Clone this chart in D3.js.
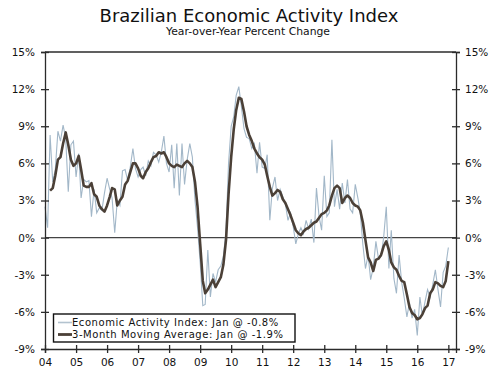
<!DOCTYPE html>
<html>
<head>
<meta charset="utf-8">
<script src="https://cdn.jsdelivr.net/npm/d3@7/dist/d3.min.js"></script>
<style>
  body { margin: 0; background: #fff; }
  text { font-family: "DejaVu Sans", Verdana, sans-serif; fill: #111; }
</style>
</head>
<body>
<div id="chart"></div>
<script>
// monthly series, Jan 2004 .. Jan 2017 (year over year % change)
const startMonth = new Date(2004, 0, 1);

const activityIndex = [
  2.5, 0.8, 8.3, 4.5, 5.5, 8.6, 7.8, 9.1, 8.0, 3.7, 7.5, 7.8,      // 2004
  4.9, 6.8, 3.2, 4.7, 4.5, 4.6, 1.7, 3.9, 2.0, 2.4, 2.2, 3.6,      // 2005
  4.8, 3.9, 3.2, 0.4, 3.0, 2.6, 5.4, 5.5, 4.6, 5.7, 7.2, 5.6,      // 2006
  4.9, 5.5, 5.7, 5.0, 6.2, 5.8, 6.9, 6.7, 6.1, 6.9, 8.2, 6.0,      // 2007
  5.3, 7.5, 4.0, 7.6, 3.4, 7.6, 4.3, 6.3, 7.6, 6.5, 3.0, 0.8,      // 2008
  -2.0, -5.5, -5.4, -1.0, -4.8, -2.9, -3.6, -2.6, -2.3, -1.5, 0.5, 6.0, // 2009
  9.0, 9.8, 11.5, 12.2, 10.6, 8.8, 8.1, 8.0, 7.2, 7.6, 5.2, 7.7,  // 2010
  5.7, 5.6, 6.7, 1.4, 4.0, 4.9, 3.0, 3.9, 3.3, 2.7, 1.4, 2.0,      // 2011
  0.9, -0.5, 0.3, 0.8, 0.3, 1.4, 0.7, 1.5, -0.4, 4.0, 1.7, 0.6,    // 2012
  5.0, 1.7, 2.0, 7.9, 2.5, 3.9, 2.3, 4.4, 2.8, 4.7, 2.3, 2.0,      // 2013
  4.3, 3.2, 2.0, -0.6, -2.5, -1.4, -3.4, -2.4, -0.3, -1.7, -1.5, 0.0, // 2014
  2.5, -2.5, 0.6, -3.3, -4.5, -1.4, -3.6, -4.9, -6.4, -5.3, -6.5, -5.8, // 2015
  -7.9, -4.8, -6.3, -5.2, -4.2, -4.8, -3.8, -2.6, -4.2, -5.6, -2.8, -2.3, // 2016
  -0.8                                                              // 2017
];

// 3-month moving average, first value is Mar 2004
const movingAvgStart = 2;
const movingAvg = [
  3.8, 4.0, 5.0, 6.3, 6.5, 7.6, 8.5, 7.5, 6.3, 5.8,
  6.0, 6.6, 5.5, 4.2, 4.1, 4.1, 4.4, 3.5, 3.3, 2.6, 2.3, 2.1,
  2.6, 3.3, 4.0, 3.9, 2.6, 3.0, 3.3, 4.3, 4.6, 5.3, 6.0, 6.0,
  5.6, 5.0, 4.8, 5.3, 5.6, 6.1, 6.5, 6.6, 6.9, 6.8, 6.9, 6.5,
  6.0, 5.8, 5.7, 5.9, 5.8, 5.7, 6.0, 6.2, 6.0, 5.7, 4.5, 2.5,
  -0.5, -3.5, -4.5, -4.2, -3.8, -3.4, -4.0, -3.6, -3.2, -2.2, -0.2, 3.5,
  6.5, 8.8, 10.3, 11.3, 11.2, 10.2, 9.0, 8.3, 7.8, 7.2, 6.8, 6.5,
  6.3, 5.9, 5.0, 4.1, 3.4, 3.6, 3.85, 3.7, 3.1, 2.8, 2.3, 1.8,
  1.2, 0.6, 0.35, 0.2, 0.5, 0.7, 0.8, 1.0, 1.2, 1.3, 1.6, 1.9,
  2.0, 2.2, 2.6, 3.4, 4.0, 4.2, 4.0, 2.8, 3.2, 3.4, 3.2, 2.8,
  2.6, 2.5, 2.2, 1.2, -0.2, -1.6, -2.0, -2.7, -1.8, -1.7, -1.4, -0.7,
  -0.3, -1.0, -2.0, -2.4, -2.6, -3.1, -3.5, -3.6, -4.6, -5.6, -6.1, -6.25,
  -6.6, -6.5, -6.2, -5.7, -5.5, -4.5, -4.2, -3.6, -3.7, -3.9, -4.0, -3.5,
  -1.9
];

const yTicks = [-9, -6, -3, 0, 3, 6, 9, 12, 15];
const yearLabels = ["04", "05", "06", "07", "08", "09", "10", "11", "12", "13", "14", "15", "16", "17"];
const legendLabels = [
  "Economic Activity Index: Jan @ -0.8%",
  "3-Month Moving Average: Jan @ -1.9%"
];

const width = 500, height = 378;
const margin = {top: 52, right: 44, bottom: 29, left: 45};
const rawColor = "#a2b7c8";
const avgColor = "#4b4037";
const axisColor = "#2b2b2b";

const svg = d3.select("#chart").append("svg")
  .attr("width", width)
  .attr("height", height);

const monthDate = i => d3.timeMonth.offset(startMonth, i);

const x = d3.scaleTime()
  .domain([startMonth, new Date(2017, 3, 1)])
  .range([margin.left, width - margin.right]);
const y = d3.scaleLinear()
  .domain([-9, 15])
  .range([height - margin.bottom, margin.top]);

// titles
svg.append("text")
  .attr("x", 249).attr("y", 22)
  .attr("text-anchor", "middle")
  .style("font-size", "18px")
  .text("Brazilian Economic Activity Index");
svg.append("text")
  .attr("x", 248).attr("y", 35)
  .attr("text-anchor", "middle")
  .style("font-size", "10.8px")
  .text("Year-over-Year Percent Change");

// zero line
svg.append("line")
  .attr("x1", x.range()[0]).attr("x2", x.range()[1])
  .attr("y1", y(0)).attr("y2", y(0))
  .attr("stroke", "#444").attr("stroke-width", 1.2);

// series
const rawLine = d3.line()
  .x((d, i) => x(monthDate(i)))
  .y(d => y(d));
const avgLine = d3.line()
  .x((d, i) => x(monthDate(i + movingAvgStart)))
  .y(d => y(d));

svg.append("path")
  .datum(activityIndex)
  .attr("fill", "none")
  .attr("stroke", rawColor)
  .attr("stroke-width", 1.1)
  .attr("d", rawLine);

svg.append("path")
  .datum(movingAvg)
  .attr("fill", "none")
  .attr("stroke", avgColor)
  .attr("stroke-width", 2.6)
  .attr("stroke-linejoin", "round")
  .attr("d", avgLine);

// frame: top border + axes
svg.append("line")
  .attr("x1", x.range()[0]).attr("x2", x.range()[1])
  .attr("y1", y(15)).attr("y2", y(15))
  .attr("stroke", axisColor).attr("stroke-width", 1.3);

const yLeft = d3.axisLeft(y).tickValues(yTicks).tickSize(4).tickFormat(d => d + "%");
const yRight = d3.axisRight(y).tickValues(yTicks).tickSize(4).tickFormat(d => d + "%");
const yearTicks = yearLabels.map((d, i) => monthDate(i * 12));
const xAxis = d3.axisBottom(x).tickValues(yearTicks).tickSize(4)
  .tickFormat((d, i) => yearLabels[i]);

function styleAxis(g, inner) {
  g.select(".domain").attr("stroke", axisColor).attr("stroke-width", 1.3);
  g.selectAll(".tick line").attr("stroke", axisColor).attr("stroke-width", 1.3);
  g.selectAll(".tick text")
    .style("font-family", '"DejaVu Sans", Verdana, sans-serif')
    .style("font-size", "10.5px")
    .attr("fill", "#111");
  g.selectAll(".tick").append("line")
    .attr(inner.a + "1", 0).attr(inner.a + "2", inner.len)
    .attr("stroke", axisColor).attr("stroke-width", 1.3);
}

svg.append("g")
  .attr("transform", "translate(" + x.range()[0] + ",0)")
  .call(yLeft)
  .call(g => styleAxis(g, {a: "x", len: 4}))
  .call(g => g.selectAll(".tick text").attr("x", -10));

svg.append("g")
  .attr("transform", "translate(" + x.range()[1] + ",0)")
  .call(yRight)
  .call(g => styleAxis(g, {a: "x", len: -4}))
  .call(g => g.selectAll(".tick text").attr("x", 9));

svg.append("g")
  .attr("transform", "translate(0," + y(-9) + ")")
  .call(xAxis)
  .call(g => styleAxis(g, {a: "y", len: -4}))
  .call(g => g.selectAll(".tick text").attr("y", 10));

// legend
const legend = svg.append("g").attr("transform", "translate(53.5,314)");
legend.append("rect")
  .attr("width", 241.5).attr("height", 28)
  .attr("fill", "#fff")
  .attr("stroke", "#111").attr("stroke-width", 1.4);

const legendStyles = [
  {color: "#b3c3cf", w: 1.6},
  {color: avgColor, w: 2.8}
];
legendLabels.forEach((label, i) => {
  const row = legend.append("g").attr("transform", "translate(0," + (8.5 + i * 12) + ")");
  row.append("line")
    .attr("x1", 4.5).attr("x2", 18.5)
    .attr("stroke", legendStyles[i].color)
    .attr("stroke-width", legendStyles[i].w);
  row.append("text")
    .attr("x", 18.5).attr("y", 3.6)
    .style("font-size", "10px")
    .style("letter-spacing", "0.55px")
    .text(label);
});
</script>
</body>
</html>
